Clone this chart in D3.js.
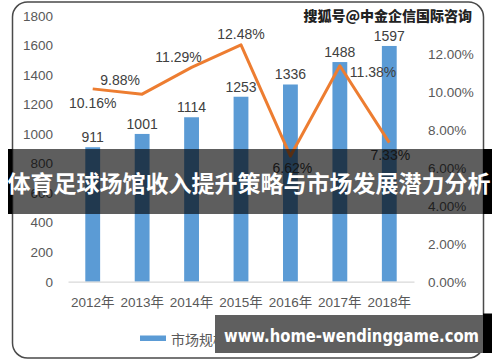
<!DOCTYPE html>
<html><head><meta charset="utf-8">
<script src="https://cdn.jsdelivr.net/npm/d3@7"></script>
<style>
html,body{margin:0;padding:0;background:#fff;}
svg{display:block;}
</style></head>
<body>
<svg id="chart" width="500" height="362"></svg>
<script>
const years = ["2012年","2013年","2014年","2015年","2016年","2017年","2018年"];
const marketSize = [911, 1001, 1114, 1253, 1336, 1488, 1597];
const growthRate = [10.16, 9.88, 11.29, 12.48, 6.62, 11.38, 7.33];
const leftTicks = [0, 200, 400, 600, 800, 1000, 1200, 1400, 1600, 1800];
const rightTicks = [0, 2, 4, 6, 8, 10, 12];
const seriesNames = ["市场规模（亿元）", "增长率"];
const titleText = "体育足球场馆收入提升策略与市场发展潜力分析";
const watermarkText = "搜狐号@中金企信国际咨询";
const siteText = "www.home-wendinggame.com";
// label placement relative to each rate point (dx, dy)
const rateLabelOffsets = [[0,14],[-22,-14],[-13,-10],[0,-11],[2,12],[10,6],[1,12]];

const svg = d3.select("#chart");
const font = "'Liberation Sans','Noto Sans CJK SC',sans-serif";
const cjk = "'Noto Sans CJK SC',sans-serif";
const blue = "#5B9BD5", orange = "#ED7D31", axisGray = "#595959", labelGray = "#404040";

const x = d3.scaleBand().domain(years).range([68, 414]).paddingInner(0.7).paddingOuter(0.35);
const yL = d3.scaleLinear().domain([0, 1800]).range([281.7, 16]);
const yR = d3.scaleLinear().domain([0, 14]).range([281.7, 16]);

// border
svg.append("rect").attr("x",12.5).attr("y",2).attr("width",471).attr("height",356)
  .attr("rx",15).attr("fill","#fff").attr("stroke","#4a4a4a").attr("stroke-width",1.5);

// left axis
const gL = svg.append("g").attr("transform","translate(53,0)")
  .call(d3.axisLeft(yL).tickValues(leftTicks).tickSize(0).tickPadding(0).tickFormat(d3.format("d")));
gL.select(".domain").remove();
gL.selectAll("text").attr("font-family",font).attr("font-size",13.5).attr("fill",axisGray);

// right axis
const gR = svg.append("g").attr("transform","translate(428,0)")
  .call(d3.axisRight(yR).tickValues(rightTicks).tickSize(0).tickPadding(0).tickFormat(d => d.toFixed(2) + "%"));
gR.select(".domain").remove();
gR.selectAll("text").attr("font-family",font).attr("font-size",13.5).attr("fill",axisGray);

// bars
svg.append("g").selectAll("rect").data(marketSize).join("rect")
  .attr("x",(d,i)=>x(years[i])).attr("width",x.bandwidth())
  .attr("y",d=>yL(d)).attr("height",d=>yL(0)-yL(d)).attr("fill",blue);

// x axis
const gX = svg.append("g").attr("transform",`translate(0,${yL(0)})`)
  .call(d3.axisBottom(x).tickSize(0).tickPadding(16));
gX.select(".domain").attr("stroke","#d9d9d9").attr("stroke-width",1.2);
gX.selectAll("text").attr("font-family",font).attr("font-size",13.5).attr("fill",axisGray);

// bar labels
svg.append("g").selectAll("text").data(marketSize).join("text")
  .attr("x",(d,i)=>x(years[i])+x.bandwidth()/2).attr("y",d=>yL(d)-5)
  .attr("text-anchor","middle").attr("font-family",font).attr("font-size",14).attr("fill",labelGray)
  .text(d=>d);

// line
const cx = i => x(years[i]) + x.bandwidth()/2;
const line = d3.line().x((d,i)=>cx(i)).y(d=>yR(d));
svg.append("path").datum(growthRate).attr("d",line).attr("fill","none")
  .attr("stroke",orange).attr("stroke-width",3).attr("stroke-linejoin","round");

// line labels
svg.append("g").selectAll("text").data(growthRate).join("text")
  .attr("x",(d,i)=>cx(i)+rateLabelOffsets[i][0])
  .attr("y",(d,i)=>yR(d)+rateLabelOffsets[i][1])
  .attr("dominant-baseline","central")
  .attr("text-anchor",(d,i)=> i===5 ? "start" : "middle")
  .attr("font-family",font).attr("font-size",14).attr("fill",labelGray)
  .text(d=>d.toFixed(2)+"%");

// legend
const lg = svg.append("g");
lg.append("rect").attr("x",140).attr("y",335.5).attr("width",26).attr("height",5.5).attr("fill",blue);
lg.append("text").attr("x",171).attr("y",338.5).attr("dominant-baseline","central")
  .attr("font-family",cjk).attr("font-size",14).attr("fill",axisGray).text(seriesNames[0]);
lg.append("line").attr("x1",300).attr("x2",326).attr("y1",338.5).attr("y2",338.5)
  .attr("stroke",orange).attr("stroke-width",3);
lg.append("text").attr("x",331).attr("y",338.5).attr("dominant-baseline","central")
  .attr("font-family",cjk).attr("font-size",14).attr("fill",axisGray).text(seriesNames[1]);

// watermark
svg.append("text").attr("x",472).attr("y",15).attr("text-anchor","end").attr("dominant-baseline","central")
  .attr("font-family",cjk).attr("font-weight","900").attr("font-size",14)
  .attr("fill","#222").attr("stroke","#fff").attr("stroke-width",2).attr("paint-order","stroke")
  .text(watermarkText);

// title banner
svg.append("rect").attr("x",8).attr("y",149).attr("width",4.5).attr("height",65).attr("fill","#000");
svg.append("rect").attr("x",483).attr("y",149).attr("width",9).attr("height",65).attr("fill","#000");
svg.append("rect").attr("x",12.5).attr("y",149).attr("width",470.5).attr("height",65).attr("fill","rgba(0,0,0,0.63)");
svg.append("text").attr("x",249).attr("y",182).attr("text-anchor","middle").attr("dominant-baseline","central")
  .attr("font-family",cjk).attr("font-weight","bold").attr("font-size",23).attr("fill","#fff")
  .text(titleText);

// site banner
svg.append("rect").attr("x",483).attr("y",313.5).attr("width",9).attr("height",39.5).attr("fill","#000");
svg.append("rect").attr("x",215).attr("y",315).attr("width",268).attr("height",38).attr("fill","#5f5f5f");
svg.append("text").attr("x",224).attr("y",336).attr("dominant-baseline","central")
  .attr("font-family","'DejaVu Sans',sans-serif").attr("font-weight","bold").attr("font-size",17)
  .attr("textLength",255).attr("lengthAdjust","spacingAndGlyphs").attr("fill","#fff")
  .text(siteText);
</script>
</body></html>
